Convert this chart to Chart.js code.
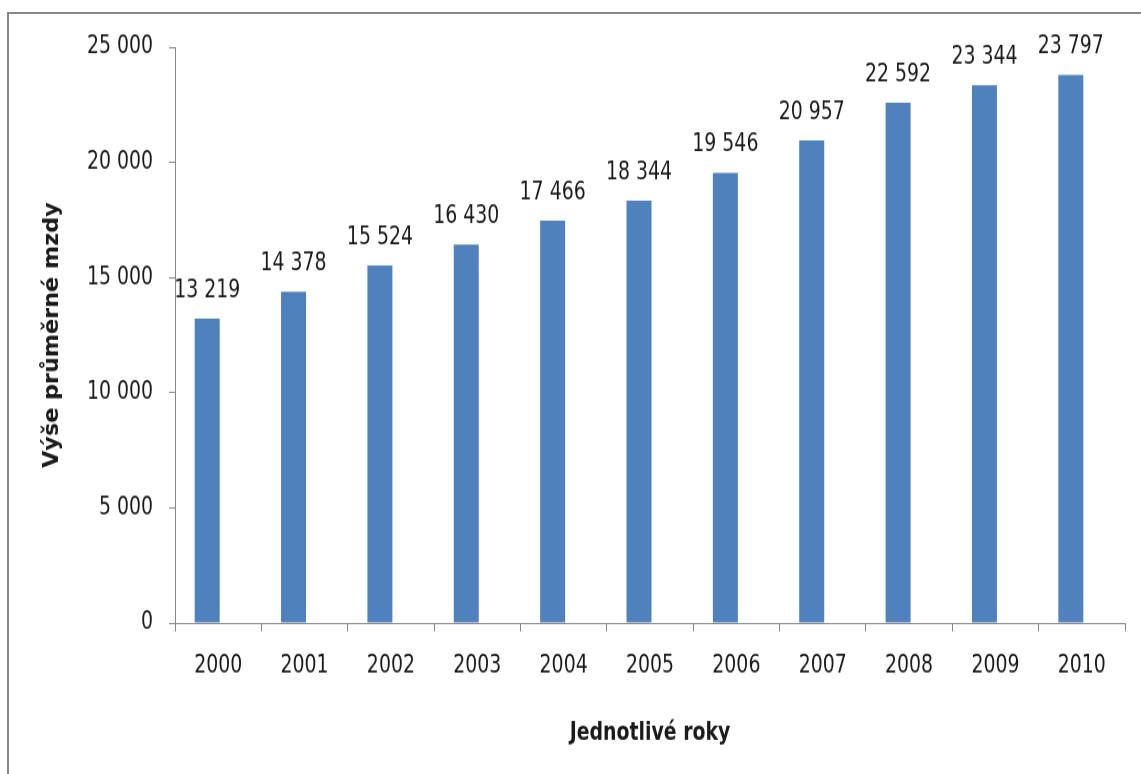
<!DOCTYPE html>
<html>
<head>
<meta charset="utf-8">
<script src="https://cdn.jsdelivr.net/npm/chart.js@4"></script>
<style>
  html, body { margin: 0; padding: 0; background: #fff; }
  #wrap { position: relative; width: 1141px; height: 774px; overflow: hidden; }
  #frame {
    position: absolute; left: 7px; top: 12px; width: 1200px; height: 800px;
    border-top: 2px solid #878787; border-left: 2px solid #878787;
  }
  /* the chart is drawn a little squat and stretched back to full height */
  #stretch {
    position: absolute; left: 0; top: 0; width: 1141px; height: 656px;
    transform: scaleY(1.1799); transform-origin: 0 0;
  }
  canvas { display: block; }
</style>
</head>
<body>
<div id="wrap">
  <div id="frame"></div>
  <div id="stretch">
    <canvas id="myChart" width="1141" height="656"></canvas>
  </div>
</div>
<script>
const years = ["2000", "2001", "2002", "2003", "2004", "2005", "2006", "2007", "2008", "2009", "2010"];
const wages = [13219, 14378, 15524, 16430, 17466, 18344, 19546, 20957, 22592, 23344, 23797];
const emptySeries = years.map(() => null);
const yTicks = [0, 5000, 10000, 15000, 20000, 25000];

const FONT = "'DejaVu Sans Condensed', 'Liberation Sans Narrow', sans-serif";
const TEXT = "#1a1a1a";
const AXIS = "#868686";

function fmt(n) {
  return String(n).replace(/\B(?=(\d{3})+(?!\d))/g, " ");
}

// value labels above each bar
const barLabels = {
  id: "barLabels",
  afterDatasetsDraw(chart) {
    const ctx = chart.ctx;
    const meta = chart.getDatasetMeta(0);
    ctx.save();
    ctx.font = "21px " + FONT;
    ctx.fillStyle = TEXT;
    ctx.textAlign = "center";
    ctx.textBaseline = "alphabetic";
    meta.data.forEach((bar, i) => {
      ctx.fillText(fmt(chart.data.datasets[0].data[i]), bar.x, bar.y - 18);
    });
    ctx.restore();
  }
};

const data = {
  labels: years,
  datasets: [{
    data: wages,
    backgroundColor: "#4F81BD",
    borderWidth: 0,
    barPercentage: 1.136,
    categoryPercentage: 0.5095
  }, {
    // empty second series, keeps the wage bars left of centre
    data: emptySeries,
    backgroundColor: "rgba(0,0,0,0)",
    barPercentage: 1.136,
    categoryPercentage: 0.5095
  }]
};

const config = {
  type: "bar",
  data: data,
  plugins: [barLabels],
  options: {
    responsive: false,
    animation: false,
    layout: { padding: { left: 0, top: 40, right: 16, bottom: 0 } },
    plugins: {
      legend: { display: false },
      tooltip: { enabled: false }
    },
    scales: {
      x: {
        afterFit: function(scale) { scale.height = 128; },
        grid: { drawOnChartArea: false, offset: true, tickLength: 7, color: AXIS },
        border: { color: AXIS, width: 1 },
        ticks: { color: TEXT, font: { family: FONT, size: 21 }, padding: 17, maxRotation: 0 },
        title: {
          display: true,
          text: "Jednotlivé roky",
          color: TEXT,
          font: { family: FONT, size: 21, weight: "bold" },
          padding: { bottom: 22 }
        }
      },
      y: {
        min: 0,
        max: 25000,
        afterFit: function(scale) { scale.width = 175; },
        afterBuildTicks: function(scale) { scale.ticks = yTicks.map(v => ({ value: v })); },
        grid: { drawOnChartArea: false, tickLength: 6, color: AXIS },
        border: { color: AXIS, width: 1 },
        ticks: {
          color: TEXT,
          font: { family: FONT, size: 21 },
          padding: 16,
          callback: v => fmt(v)
        },
        title: {
          display: true,
          text: "Výše průměrné mzdy",
          color: TEXT,
          font: { family: FONT, size: 21, weight: "bold" },
          padding: { top: 40 }
        }
      }
    }
  }
};

const myChart = new Chart(document.getElementById("myChart"), config);
</script>
</body>
</html>
